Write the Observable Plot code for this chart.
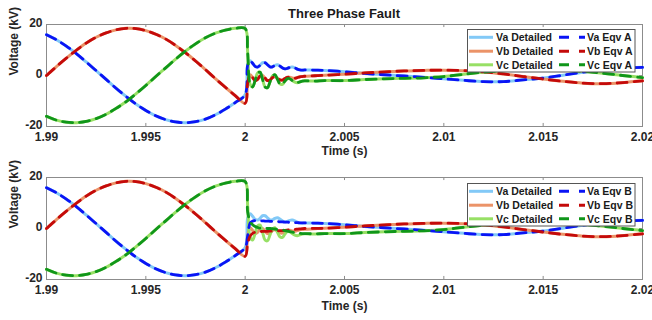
<!DOCTYPE html>
<html><head><meta charset="utf-8">
<script src="https://cdn.jsdelivr.net/npm/d3@7"></script>
<script src="https://cdn.jsdelivr.net/npm/@observablehq/plot@0.6"></script>
<style>
body{margin:0;background:#fff;font-family:"Liberation Sans",Arial,sans-serif;}
#wrap{position:relative;width:652px;height:320px;overflow:hidden;}
#title{position:absolute;left:46px;top:0;width:596px;height:27px;line-height:27px;text-align:center;font-weight:bold;font-size:13px;color:#1a1a1a;}
#wrap svg{display:block;}
</style></head>
<body><div id="wrap"><div id="charts"></div><div id="title">Three Phase Fault</div></div>
<script>
// ---- time grids ----
const tPre = [1.99, 1.9905, 1.991, 1.9915, 1.992, 1.9925, 1.993, 1.9935, 1.994, 1.9945, 1.995,
  1.9955, 1.996, 1.9965, 1.997, 1.9975, 1.998, 1.9985, 1.999, 1.9995, 2.0];
const tFault = [2.000125, 2.00025, 2.000375, 2.0005, 2.000625, 2.00075, 2.000875, 2.001, 2.001125,
  2.00125, 2.001375, 2.0015, 2.001625, 2.00175, 2.001875, 2.002, 2.002125, 2.00225, 2.002375,
  2.0025, 2.002625, 2.00275, 2.002875, 2.003, 2.0035, 2.004];
const tLate = [2.005, 2.006, 2.007, 2.008, 2.009, 2.01, 2.011, 2.012, 2.013, 2.014, 2.015,
  2.016, 2.017, 2.018, 2.019, 2.02];

// ---- pre-fault voltages (kV) ----
const vaPre = [16.0, 14.0, 11.5, 8.6, 5.3, 1.9, -1.5, -5.0, -8.2, -11.2, -13.7, -15.8, -17.3, -18.2, -18.5, -18.1, -17.1, -15.4, -13.2, -10.6, -7.5];
const vbPre = [0, 3.5, 6.8, 9.9, 12.7, 15.0, 16.7, 17.9, 18.5, 18.4, 17.6, 16.2, 14.3, 11.8, 8.9, 5.7, 2.3, -1.2, -4.6, -7.9, -10.9];
const vcPre = [-16.0, -17.5, -18.3, -18.5, -18.0, -16.9, -15.2, -12.9, -10.3, -7.2, -3.9, -0.4, 3.0, 6.4, 9.6, 12.4, 14.8, 16.6, 17.8, 18.5, 18.4];

// ---- fault transient, detailed model (also Eqv A) ----
const vaFault = [4.0, 5.8, 4.8, 3.6, 3.3, 4.0, 5.0, 5.0, 4.2, 3.4, 3.4, 4.0, 4.2, 3.7, 3.0, 2.6, 2.8, 3.2, 3.3, 3.0, 2.5, 2.2, 2.1, 2.2, 2.1, 2.0];
const vbFault = [-3.0, 0.3, -0.8, -2.0, -1.5, -0.2, 0.0, -1.0, -2.0, -1.8, -0.8, -0.5, -1.0, -1.7, -1.8, -1.2, -0.7, -0.7, -1.0, -1.1, -0.8, -0.5, -0.4, -0.3, -0.1, 0.1];
const vcFault = [9.0, -3.5, -4.5, -2.0, 1.0, 1.3, -1.5, -4.5, -4.8, -2.5, -0.2, 0.3, -1.5, -3.3, -3.5, -2.2, -1.2, -1.3, -2.0, -2.6, -2.8, -2.5, -2.2, -2.1, -2.2, -2.0];

// ---- fault transient, Eqv B ----
const vaFaultB = [-3.0, 2.2, 2.9, 3.1, 3.1, 3.0, 3.0, 2.9, 2.9, 2.8, 2.8, 2.7, 2.7, 2.6, 2.6, 2.5, 2.5, 2.4, 2.4, 2.3, 2.3, 2.2, 2.2, 2.2, 2.1, 2.0];
const vbFaultB = [-6.0, -3.0, -1.9, -1.5, -1.3, -1.2, -1.15, -1.1, -1.1, -1.05, -1.0, -1.0, -0.9, -0.85, -0.8, -0.7, -0.6, -0.5, -0.4, -0.35, -0.25, -0.15, -0.05, 0.0, 0.05, 0.1];
const vcFaultB = [6.5, 2.8, 1.5, 0.8, 0.4, 0.1, 0.0, 0.0, 0.0, 0.0, -0.1, -0.2, -0.35, -0.5, -0.6, -0.8, -1.0, -1.2, -1.4, -1.6, -1.8, -1.9, -2.0, -2.0, -2.1, -2.0];

// ---- late post-fault ----
const vaLate = [1.5, 0.8, 0.3, -0.2, -0.7, -1.3, -1.9, -2.4, -2.4, -1.7, -1.0, 0.1, 1.3, 2.3, 2.9, 3.2];
const vbLate = [0.5, 1.0, 1.4, 1.8, 2.0, 2.1, 1.9, 1.4, 0.6, -0.4, -1.4, -2.3, -3.0, -3.2, -2.8, -2.1];
const vcLate = [-2.0, -1.6, -1.3, -1.1, -0.9, -0.4, 0.5, 1.3, 1.9, 2.2, 2.3, 2.1, 1.6, 0.9, 0.0, -0.8];

// ---- labels ----
const detNames = ["Va Detailed", "Vb Detailed", "Vc Detailed"];
const eqvNamesA = ["Va Eqv A", "Vb Eqv A", "Vc Eqv A"];
const eqvNamesB = ["Va Eqv B", "Vb Eqv B", "Vc Eqv B"];
const xTicks = [1.99, 1.995, 2, 2.005, 2.01, 2.015, 2.02];
const xTickLabels = ["1.99", "1.995", "2", "2.005", "2.01", "2.015", "2.02"];
const yTicks = [-20, 0, 20];
const yTickLabels = ["-20", "0", "20"];
const titleText = "Three Phase Fault";
const xLabel = "Time (s)";
const yLabel = "Voltage (kV)";

const detColors = ["#82c9f7", "#eb9368", "#97e065"];
const eqvColors = ["#0a14f5", "#c40a0a", "#10961a"];

const T = tPre.concat(tFault, tLate);
function rows(pre, mid, late) {
  const v = pre.concat(mid, late);
  return T.map((t, i) => ({t, v: v[i]}));
}
const detailed = [rows(vaPre, vaFault, vaLate), rows(vbPre, vbFault, vbLate), rows(vcPre, vcFault, vcLate)];
const eqvA = [rows(vaPre, vaFault, vaLate), rows(vbPre, vbFault, vbLate), rows(vcPre, vcFault, vcLate)];
const eqvB = [rows(vaPre, vaFaultB, vaLate), rows(vbPre, vbFaultB, vbLate), rows(vcPre, vcFaultB, vcLate)];

document.getElementById("title").textContent = titleText;

const frameColor = "#8c8c8c";
function panel(eqv, mt, mb, h, labelDy) {
  const marks = [
    Plot.frame({stroke: frameColor}),
    Plot.ruleX(xTicks, {x: d => d, y1: -20, y2: -18.8, stroke: frameColor}),
    Plot.ruleX(xTicks, {x: d => d, y1: 20, y2: 18.8, stroke: frameColor}),
    Plot.ruleY(yTicks, {y: d => d, x1: 1.99, x2: 1.99015, stroke: frameColor}),
    Plot.ruleY(yTicks, {y: d => d, x1: 2.02, x2: 2.01985, stroke: frameColor}),
  ];
  detailed.forEach((d, i) => marks.push(Plot.line(d, {x: "t", y: "v", stroke: detColors[i], strokeWidth: 3, curve: "catmull-rom"})));
  eqv.forEach((d, i) => marks.push(Plot.line(d, {x: "t", y: "v", stroke: eqvColors[i], strokeWidth: 2.8, strokeDasharray: "10,7", curve: "catmull-rom"})));
  marks.push(
    Plot.axisX(xTicks, {tickSize: 0, tickPadding: 6, label: null, tickFormat: d => xTickLabels[xTicks.indexOf(d)], fontSize: 12, fontWeight: "bold"}),
    Plot.axisY(yTicks, {tickSize: 0, tickPadding: 4, label: null, tickFormat: d => yTickLabels[yTicks.indexOf(d)], fontSize: 12, fontWeight: "bold", dy: -1}),
    Plot.text([xLabel], {frameAnchor: "bottom", lineAnchor: "middle", dy: labelDy, text: d => d, fontSize: 12, fontWeight: "bold"}),
    Plot.text([yLabel], {frameAnchor: "left", lineAnchor: "middle", dx: -32, rotate: -90, text: d => d, fontSize: 12, fontWeight: "bold"})
  );
  return Plot.plot({
    width: 652, height: h,
    marginLeft: 46, marginRight: 10, marginTop: mt, marginBottom: mb,
    x: {domain: [1.99, 2.02], label: null},
    y: {domain: [-20, 20], label: null},
    style: {fontFamily: '"Liberation Sans", Arial, sans-serif', color: "#262626", background: "#fff", overflow: "visible"},
    marks
  });
}

const charts = document.getElementById("charts");
charts.appendChild(panel(eqvA, 24, 36, 162, 25));
charts.appendChild(panel(eqvB, 15, 41, 158, 27));

function legend(top, eqvNames) {
  const svg = d3.select("#wrap").append("svg")
    .style("position", "absolute").style("left", "467px").style("top", top + "px")
    .attr("width", 169).attr("height", 44)
    .style("font-family", '"Liberation Sans", Arial, sans-serif');
  svg.append("rect").attr("x", 0.5).attr("y", 0.5).attr("width", 167.5).attr("height", 42.5)
    .attr("fill", "#fff").attr("stroke", "#555").attr("stroke-width", 1);
  const ys = [8.3, 22.2, 35.8];
  ys.forEach((y, i) => {
    svg.append("line").attr("x1", 2).attr("x2", 26).attr("y1", y).attr("y2", y)
      .attr("stroke", detColors[i]).attr("stroke-width", 3);
    svg.append("text").attr("x", 29).attr("y", y + 3.8).attr("font-size", 10.5).attr("font-weight", "bold")
      .attr("fill", "#1a1a1a").text(detNames[i]);
    svg.append("line").attr("x1", 92).attr("x2", 118).attr("y1", y).attr("y2", y)
      .attr("stroke", eqvColors[i]).attr("stroke-width", 3).attr("stroke-dasharray", "10,10");
    svg.append("text").attr("x", 120).attr("y", y + 3.8).attr("font-size", 10.5).attr("font-weight", "bold")
      .attr("fill", "#1a1a1a").text(eqvNames[i]);
  });
}
legend(29, eqvNamesA);
legend(183, eqvNamesB);
</script>
</body></html>
